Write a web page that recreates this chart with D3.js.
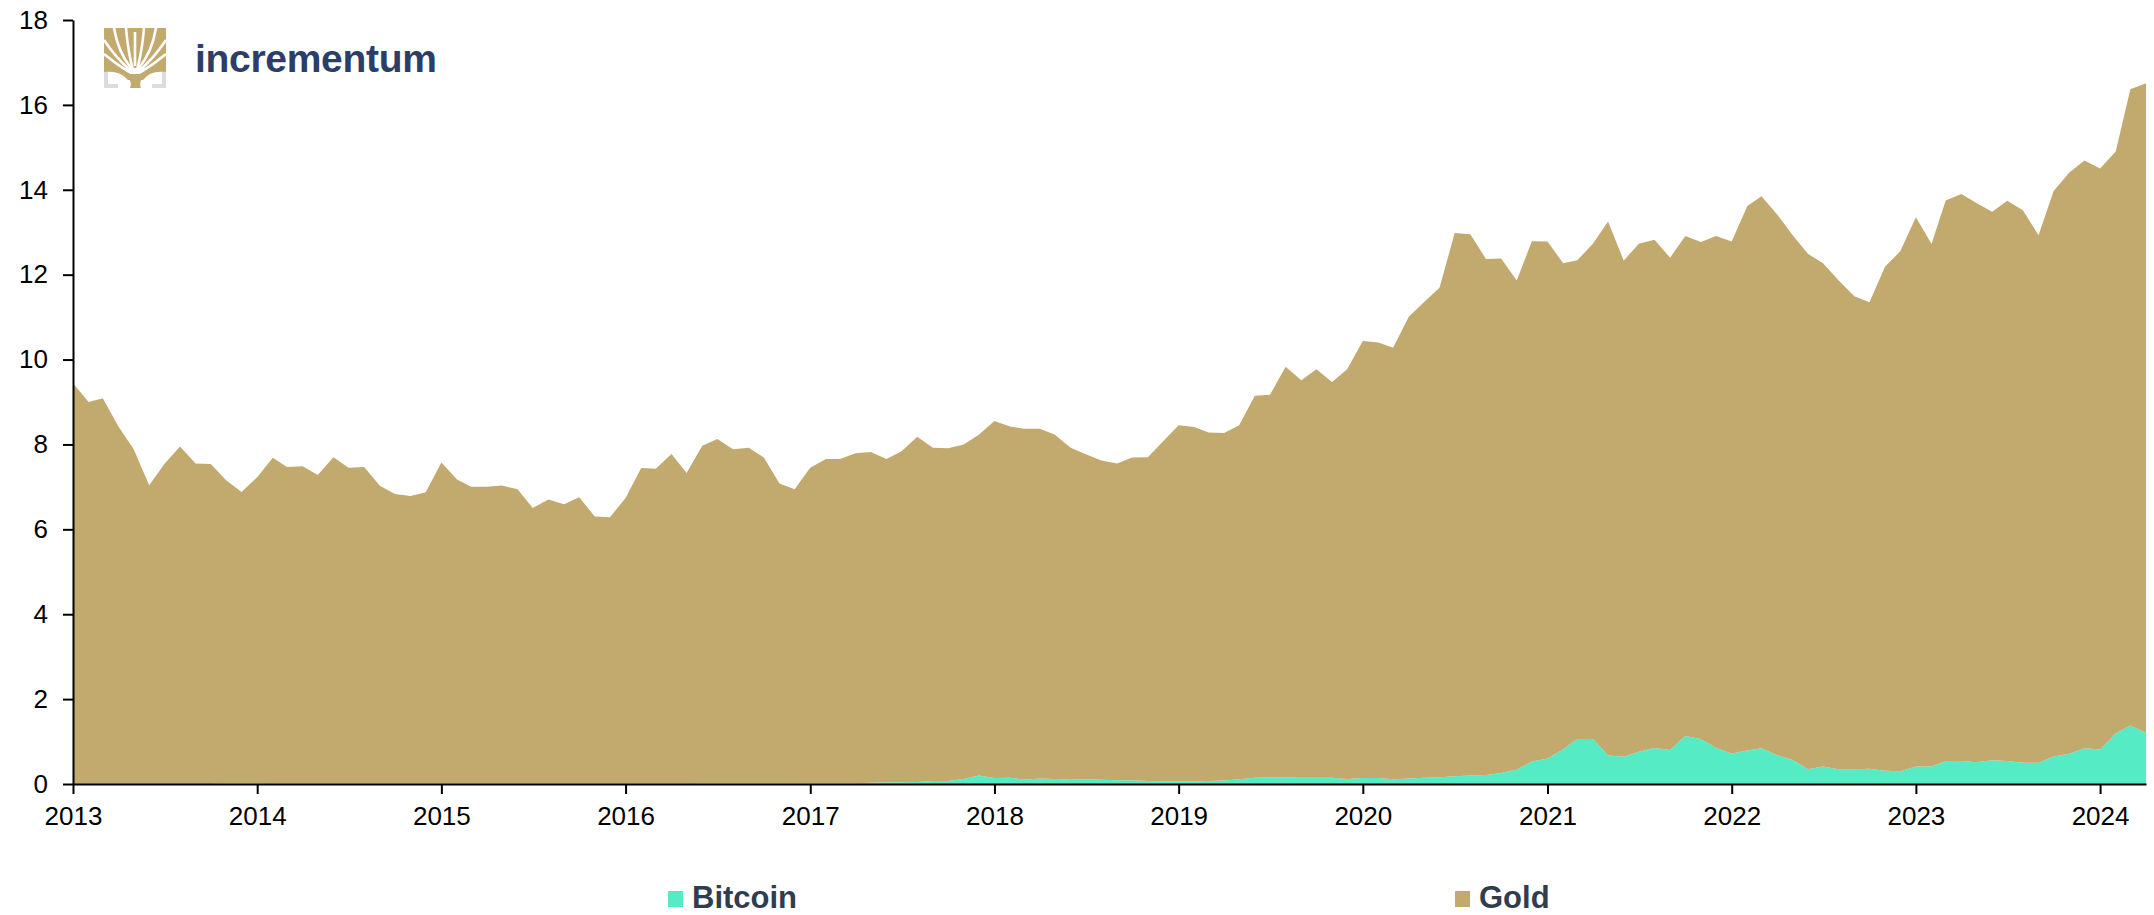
<!DOCTYPE html>
<html>
<head>
<meta charset="utf-8">
<title>Bitcoin and Gold</title>
<script src="https://cdn.jsdelivr.net/npm/d3@7"></script>
<style>
  body { margin: 0; background: #fff; }
  svg { display: block; }
  .axis text { font-family: "Liberation Sans", Arial, sans-serif; font-size: 26px; fill: #000; }
  .axis path, .axis line { stroke: #000; stroke-width: 2px; }
  .legend text { font-family: "Liberation Sans", Arial, sans-serif; font-size: 31px; font-weight: bold; fill: #2f3d4f; }
</style>
</head>
<body>
<svg id="chart" width="2154" height="915"></svg>
<script>
// monthly values, Jan 2013 .. Apr 2024
const firstMonth = Date.UTC(2013, 0, 1);

const bitcoin = [
  0.000,0.000,0.001,0.001,0.001,0.001,0.001,0.001,0.001,0.002,0.012,0.009,
  0.009,0.007,0.006,0.006,0.008,0.008,0.008,0.007,0.005,0.004,0.005,0.004,
  0.003,0.003,0.003,0.003,0.003,0.004,0.004,0.003,0.003,0.004,0.005,0.006,
  0.006,0.007,0.006,0.007,0.008,0.010,0.010,0.009,0.010,0.011,0.012,0.016,
  0.02,0.02,0.02,0.02,0.03,0.04,0.04,0.05,0.07,0.07,0.12,0.20,
  0.14,0.15,0.10,0.13,0.12,0.10,0.11,0.10,0.09,0.09,0.07,0.06,
  0.06,0.06,0.07,0.08,0.11,0.15,0.16,0.16,0.15,0.15,0.15,0.12,
  0.14,0.14,0.11,0.13,0.15,0.16,0.18,0.20,0.21,0.26,0.34,0.53,
  0.60,0.82,1.06,1.06,0.67,0.64,0.76,0.85,0.80,1.13,1.06,0.85,
  0.72,0.79,0.84,0.68,0.57,0.35,0.41,0.35,0.35,0.36,0.31,0.30,
  0.41,0.41,0.54,0.54,0.51,0.56,0.54,0.50,0.50,0.65,0.71,0.84,
  0.81,1.19,1.38,1.20
];

const gold = [
  9.44,9.00,9.09,8.42,7.89,7.04,7.54,7.95,7.55,7.54,7.14,6.87,
  7.22,7.68,7.46,7.48,7.27,7.69,7.44,7.46,7.02,6.83,6.78,6.87,
  7.57,7.17,7.00,7.00,7.03,6.94,6.50,6.70,6.59,6.75,6.30,6.28,
  6.73,7.44,7.42,7.77,7.32,7.96,8.12,7.88,7.91,7.68,7.07,6.93,
  7.43,7.64,7.64,7.77,7.79,7.62,7.80,8.13,7.85,7.84,7.88,8.03,
  8.41,8.27,8.27,8.24,8.11,7.82,7.66,7.52,7.46,7.60,7.63,8.01,
  8.39,8.35,8.21,8.19,8.34,9.00,9.01,9.67,9.36,9.62,9.32,9.65,
  10.30,10.26,10.17,10.88,11.20,11.53,12.80,12.75,12.16,12.12,11.52,12.26,
  12.18,11.45,11.28,11.67,12.58,11.69,11.97,11.97,11.60,11.78,11.71,12.06,
  12.06,12.83,13.01,12.74,12.37,12.14,11.86,11.51,11.14,10.99,11.88,12.25,
  12.94,12.31,13.21,13.36,13.18,12.92,13.20,13.02,12.43,13.32,13.70,13.85,
  13.69,13.71,14.99,15.31
];

const years = [2013,2014,2015,2016,2017,2018,2019,2020,2021,2022,2023,2024];
const yTicks = [0,2,4,6,8,10,12,14,16,18];
const seriesNames = ["Bitcoin", "Gold"];
const seriesColors = ["#55ebc4", "#c2a96d"];

const rows = gold.map((g, i) => ({
  date: d3.utcMonth.offset(new Date(firstMonth), i),
  Bitcoin: bitcoin[i],
  Gold: g
}));

const svg = d3.select("#chart");

const x = d3.scaleUtc()
  .domain([rows[0].date, rows[rows.length - 1].date])
  .range([73, 2146]);
const y = d3.scaleLinear().domain([0, 18]).range([784, 20]);

const stacked = d3.stack().keys(seriesNames)(rows);
const area = d3.area()
  .x(d => x(d.data.date))
  .y0(d => y(d[0]))
  .y1(d => y(d[1]));

svg.append("g").selectAll("path")
  .data(stacked)
  .join("path")
  .attr("d", area)
  .attr("fill", (d, i) => seriesColors[i]);

svg.append("g")
  .attr("class", "axis")
  .attr("transform", "translate(73,0)")
  .call(d3.axisLeft(y).tickValues(yTicks).tickSize(10).tickSizeOuter(0).tickPadding(15));

svg.append("g")
  .attr("class", "axis")
  .attr("transform", "translate(0,784)")
  .call(d3.axisBottom(x)
    .tickValues(years.map(yr => new Date(Date.UTC(yr, 0, 1))))
    .tickFormat(d3.utcFormat("%Y"))
    .tickSize(10).tickSizeOuter(0).tickPadding(13));

// legend
const legendX = [668, 1455];
const legend = svg.append("g").attr("class", "legend");
seriesNames.forEach((name, i) => {
  legend.append("rect").attr("x", legendX[i]).attr("y", 891).attr("width", 15).attr("height", 16)
    .attr("fill", seriesColors[i]);
  legend.append("text").attr("x", legendX[i] + 24).attr("y", 908).text(name);
});

// incrementum logo
const logo = svg.append("g").attr("transform", "translate(104,28)");
logo.append("rect").attr("width", 62).attr("height", 40).attr("fill", "#c2a96d");
logo.append("path").attr("d", "M0,38 Q18,36 26,46 L36,46 Q44,36 62,38 L62,44 Q46,42 39,52 L24,52 Q16,42 0,44 Z").attr("fill", "#c2a96d");
logo.append("path").attr("d", "M25,50 Q28,56 26,60 L37,60 Q35,56 38,50 Z").attr("fill", "#c2a96d");
const branches = [
  "M29,42 Q24,24 22,0", "M33,42 Q38,24 40,0",
  "M27,40 Q14,24 10,0", "M35,40 Q48,24 52,0",
  "M26,42 Q12,30 0,12", "M36,42 Q50,30 62,12",
  "M25,44 Q12,36 0,26", "M37,44 Q50,36 62,26",
  "M31,38 L31,4"
];
logo.selectAll(".br").data(branches).join("path")
  .attr("d", d => d).attr("fill", "none").attr("stroke", "#fff").attr("stroke-width", 2.6);
logo.append("path").attr("d", "M2,44 V58 H14 M60,44 V58 H48").attr("fill", "none")
  .attr("stroke", "#dcdcdc").attr("stroke-width", 4);
svg.append("text").attr("x", 195).attr("y", 72)
  .style("font-family", "'Liberation Sans', Arial, sans-serif").style("font-size", "39px")
  .style("font-weight", "bold").style("fill", "#2c3e67").style("letter-spacing", "-0.3px")
  .text("incrementum");
</script>
</body>
</html>
